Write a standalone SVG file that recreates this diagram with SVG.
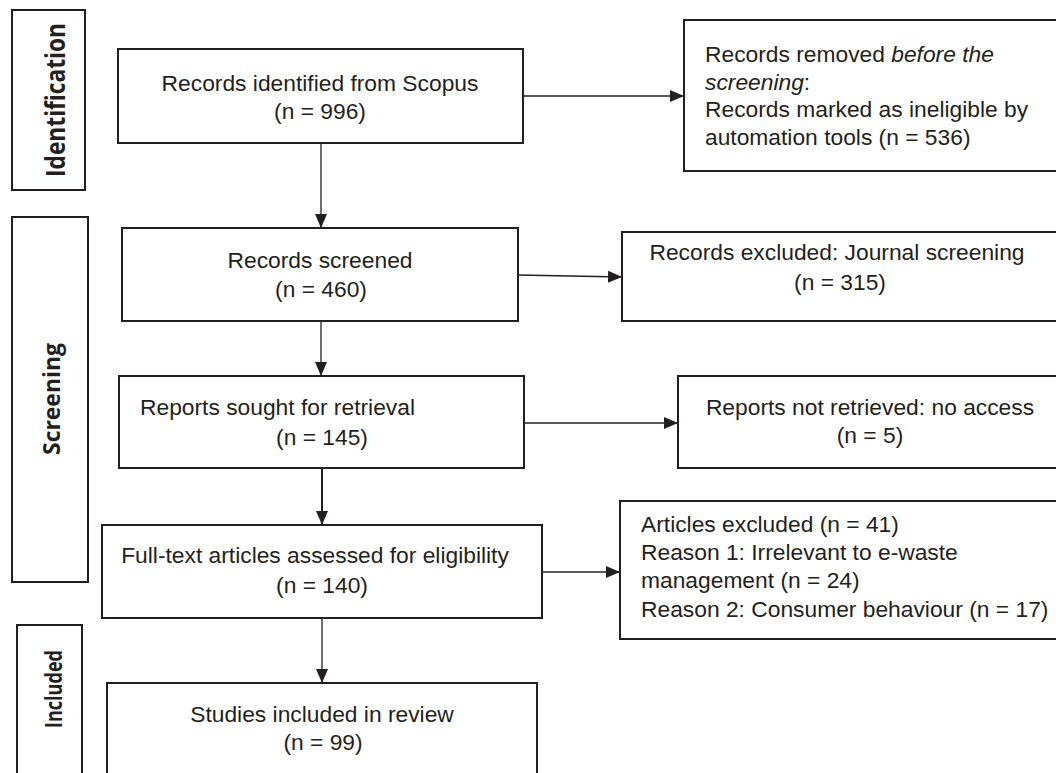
<svg xmlns="http://www.w3.org/2000/svg" width="1056" height="773" viewBox="0 0 1056 773">
<defs>
<style>
.box{fill:#fff;stroke:#231f20;stroke-width:2}
.t{font-family:"Liberation Sans",Arial,sans-serif;font-size:22.8px;fill:#231f20}
.c{text-anchor:middle}
.lab{font-family:"Open Sans","DejaVu Sans",sans-serif;font-weight:bold;fill:#231f20;text-anchor:middle}
.ln{stroke:#231f20;stroke-width:1.3;fill:none}
.it{font-style:italic}
</style>
<marker id="ah" viewBox="0 0 14 12" refX="14" refY="6" markerWidth="14" markerHeight="12" markerUnits="userSpaceOnUse" orient="auto">
<path d="M0,0 L14,6 L0,12 Z" fill="#231f20"/>
</marker>
</defs>
<rect width="1056" height="773" fill="#fff"/>

<g id="phase-identification">
<rect class="box" x="12" y="10" width="73" height="180"/>
<text class="lab" font-size="26" textLength="154" lengthAdjust="spacingAndGlyphs" transform="translate(65,100) rotate(-90)">Identification</text>
</g>
<g id="phase-screening">
<rect class="box" x="12" y="217" width="76" height="365"/>
<text class="lab" font-size="24" textLength="112" lengthAdjust="spacingAndGlyphs" transform="translate(60,399) rotate(-90)">Screening</text>
</g>
<g id="phase-included">
<rect class="box" x="17" y="625" width="65" height="160"/>
<text class="lab" font-size="23.5" textLength="78" lengthAdjust="spacingAndGlyphs" transform="translate(62,689) rotate(-90)">Included</text>
</g>

<g id="connectors">
<line class="ln" x1="321" y1="143" x2="321" y2="228" marker-end="url(#ah)"/>
<line class="ln" x1="321" y1="321" x2="321" y2="376" marker-end="url(#ah)"/>
<line class="ln" x1="322" y1="468" x2="322" y2="525" marker-end="url(#ah)" style="stroke-width:2"/>
<line class="ln" x1="322" y1="618" x2="322" y2="683" marker-end="url(#ah)"/>
<line class="ln" x1="523" y1="96" x2="684" y2="96" marker-end="url(#ah)"/>
<line class="ln" x1="518" y1="275" x2="622" y2="277" marker-end="url(#ah)"/>
<line class="ln" x1="524" y1="423" x2="678" y2="423" marker-end="url(#ah)"/>
<line class="ln" x1="542" y1="572" x2="620" y2="572" marker-end="url(#ah)"/>
</g>

<g id="n-identified">
<rect class="box" x="118" y="49" width="405" height="94"/>
<text class="t c" x="320" y="91">Records identified from Scopus</text>
<text class="t c" x="320" y="119">(n = 996)</text>
</g>
<g id="n-screened">
<rect class="box" x="122" y="228" width="396" height="93"/>
<text class="t c" x="320" y="268">Records screened</text>
<text class="t c" x="321" y="297">(n = 460)</text>
</g>
<g id="n-sought">
<rect class="box" x="119" y="376" width="405" height="92"/>
<text class="t" x="140" y="415">Reports sought for retrieval</text>
<text class="t c" x="322" y="445">(n = 145)</text>
</g>
<g id="n-assessed">
<rect class="box" x="102" y="525" width="440" height="93"/>
<text class="t c" x="315" y="563">Full-text articles assessed for eligibility</text>
<text class="t c" x="322" y="593">(n = 140)</text>
</g>
<g id="n-included">
<rect class="box" x="107" y="683" width="430" height="100"/>
<text class="t c" x="322" y="722">Studies included in review</text>
<text class="t c" x="323" y="750">(n = 99)</text>
</g>

<g id="n-removed">
<rect class="box" x="684" y="20" width="380" height="151"/>
<text class="t" x="705" y="62">Records removed <tspan class="it">before the</tspan></text>
<text class="t" x="705" y="90"><tspan class="it">screening</tspan>:</text>
<text class="t" x="705" y="117">Records marked as ineligible by</text>
<text class="t" x="705" y="145">automation tools (n = 536)</text>
</g>
<g id="n-excluded">
<rect class="box" x="622" y="232" width="442" height="89"/>
<text class="t c" x="837" y="260">Records excluded: Journal screening</text>
<text class="t c" x="840" y="290">(n = 315)</text>
</g>
<g id="n-notretrieved">
<rect class="box" x="678" y="376" width="386" height="92"/>
<text class="t c" x="870" y="415">Reports not retrieved: no access</text>
<text class="t c" x="870" y="443">(n = 5)</text>
</g>
<g id="n-articles-excluded">
<rect class="box" x="620" y="501" width="444" height="138"/>
<text class="t" x="641" y="532">Articles excluded (n = 41)</text>
<text class="t" x="641" y="560">Reason 1: Irrelevant to e-waste</text>
<text class="t" x="641" y="588">management (n = 24)</text>
<text class="t" x="641" y="617">Reason 2: Consumer behaviour (n = 17)</text>
</g>
</svg>
